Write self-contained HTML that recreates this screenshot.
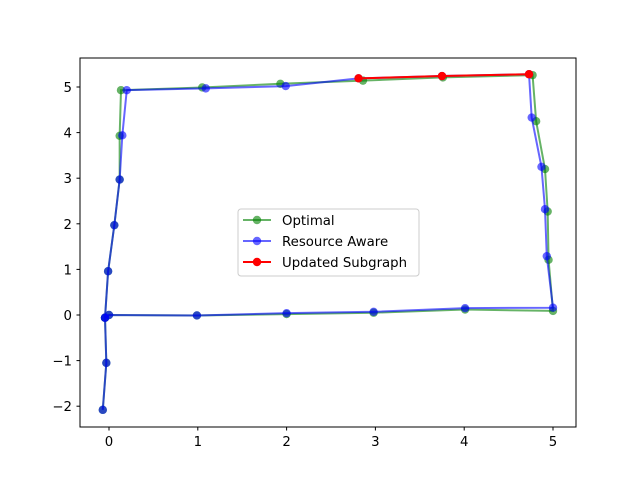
<!DOCTYPE html>
<html><head><meta charset="utf-8">
<style>
body{margin:0;background:#fff;}
svg{display:block;font-family:"DejaVu Sans","Liberation Sans",sans-serif;}
</style></head>
<body>
<svg id="chart" width="640" height="480" xmlns="http://www.w3.org/2000/svg">
<rect x="0" y="0" width="640" height="480" fill="#fff"/>
<g id="plot"></g>
<rect x="80" y="58" width="496" height="369" fill="none" stroke="#000" stroke-width="1"/>
<g id="xticks"></g>
<g id="yticks"></g>
<g>
<rect x="238" y="209" width="181" height="67" rx="3" fill="#fff" fill-opacity="0.8" stroke="#ccc"/>
<g>
<line x1="243" y1="220" x2="271" y2="220" stroke="green" stroke-opacity="0.6" stroke-width="2"/>
<circle cx="257" cy="220" r="4.2" fill="green" fill-opacity="0.6"/>
<text x="282" y="225" font-size="13.3">Optimal</text></g>
<g>
<line x1="243" y1="241" x2="271" y2="241" stroke="blue" stroke-opacity="0.6" stroke-width="2"/>
<circle cx="257" cy="241" r="4.2" fill="blue" fill-opacity="0.6"/>
<text x="282" y="246" font-size="13.3">Resource Aware</text></g>
<g>
<line x1="243" y1="262" x2="271" y2="262" stroke="red" stroke-width="2"/>
<circle cx="257" cy="262" r="4.2" fill="red"/>
<text x="282" y="267" font-size="13.3">Updated Subgraph</text></g>
</g>
</svg>
<script>
const xTicks=[0,1,2,3,4,5];
const yTicks=[-2,-1,0,1,2,3,4,5];
const yTickLabels=["\u22122","\u22121","0","1","2","3","4","5"];
const optimalX=[-0.07,-0.03,-0.045,-0.01,0.06,0.12,0.12,0.135,1.05,1.93,2.86,3.76,4.77,4.81,4.91,4.94,4.95,5.0,4.01,2.98,2.0,0.99,0.0,-0.045];
const optimalY=[-2.08,-1.05,-0.06,0.96,1.97,2.97,3.93,4.93,4.99,5.07,5.14,5.21,5.26,4.25,3.2,2.27,1.21,0.09,0.12,0.05,0.02,-0.01,0.0,-0.06];
const resourceX=[-0.07,-0.03,-0.045,-0.01,0.06,0.12,0.15,0.2,1.09,1.99,2.81,3.75,4.73,4.76,4.87,4.91,4.93,5.0,4.01,2.98,2.0,0.99,0.0,-0.045];
const resourceY=[-2.08,-1.05,-0.06,0.96,1.97,2.97,3.94,4.93,4.97,5.02,5.19,5.24,5.28,4.33,3.25,2.32,1.29,0.16,0.15,0.07,0.04,-0.01,0.0,-0.06];
const updatedX=[2.81,3.75,4.73];
const updatedY=[5.19,5.24,5.28];

const sx=v=>109+88.8*v;
const sy=v=>315-45.6*v;
const NS="http://www.w3.org/2000/svg";
const plot=document.getElementById('plot');
function series(xs,ys,color,op,name){
  const g=document.createElementNS(NS,'g');
  
  
  const pl=document.createElementNS(NS,'polyline');
  pl.setAttribute('points',xs.map((x,i)=>sx(x)+','+sy(ys[i])).join(' '));
  pl.setAttribute('fill','none');pl.setAttribute('stroke',color);
  pl.setAttribute('stroke-opacity',op);pl.setAttribute('stroke-width','2');
  
  
  g.appendChild(pl);
  xs.forEach((x,i)=>{
    const c=document.createElementNS(NS,'circle');
    c.setAttribute('cx',sx(x));c.setAttribute('cy',sy(ys[i]));c.setAttribute('r','4.2');
    c.setAttribute('fill',color);c.setAttribute('fill-opacity',op);
    
    
    g.appendChild(c);
  });
  plot.appendChild(g);
}
series(optimalX,optimalY,'green',0.6,'optimal-series');
series(resourceX,resourceY,'blue',0.6,'resource-aware-series');
series(updatedX,updatedY,'red',1,'updated-subgraph-series');

const xg=document.getElementById('xticks');
xTicks.forEach(t=>{
  const l=document.createElementNS(NS,'line');
  l.setAttribute('x1',sx(t));l.setAttribute('x2',sx(t));l.setAttribute('y1',427);l.setAttribute('y2',430.5);
  l.setAttribute('stroke','#000');
  
  
  xg.appendChild(l);
  const tx=document.createElementNS(NS,'text');
  tx.setAttribute('x',sx(t));tx.setAttribute('y',446);tx.setAttribute('text-anchor','middle');tx.setAttribute('font-size','13.3');
  tx.textContent=String(t);
  
  
  xg.appendChild(tx);
});
const yg=document.getElementById('yticks');
yTicks.forEach((t,i)=>{
  const l=document.createElementNS(NS,'line');
  l.setAttribute('x1',76.5);l.setAttribute('x2',80);l.setAttribute('y1',sy(t));l.setAttribute('y2',sy(t));
  l.setAttribute('stroke','#000');
  
  
  yg.appendChild(l);
  const tx=document.createElementNS(NS,'text');
  tx.setAttribute('x',72);tx.setAttribute('y',sy(t)+5);tx.setAttribute('text-anchor','end');tx.setAttribute('font-size','13.3');
  tx.textContent=yTickLabels[i];
  
  
  yg.appendChild(tx);
});
</script>
</body></html>
